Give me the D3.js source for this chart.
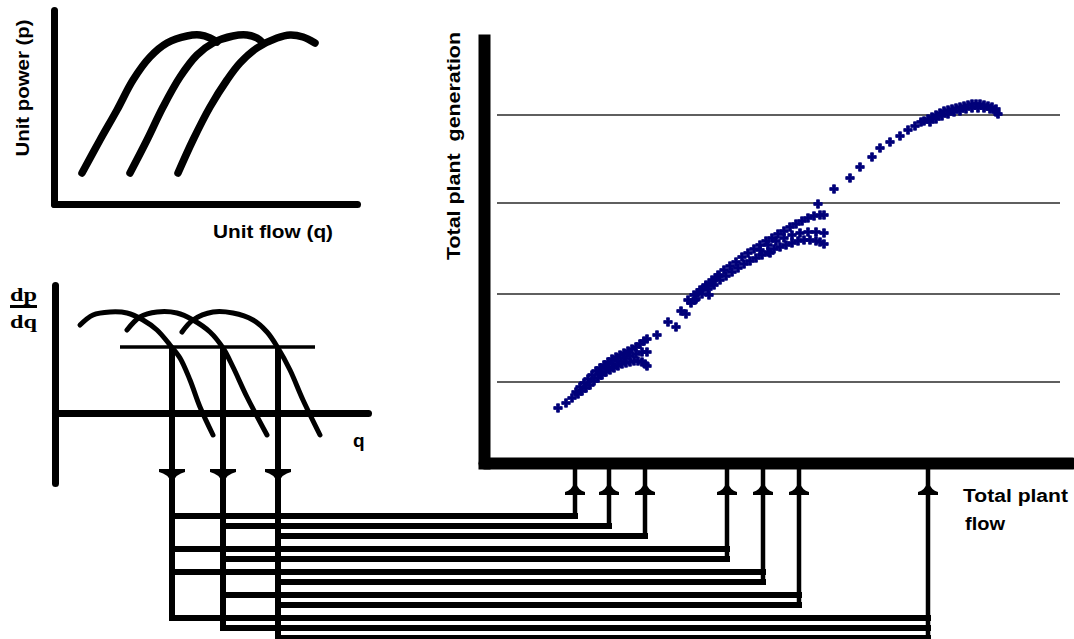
<!DOCTYPE html>
<html><head><meta charset="utf-8">
<script src="https://cdn.jsdelivr.net/npm/d3@7"></script>
<style>
body{margin:0;background:#fff}
svg{display:block}
text{font-family:"Liberation Sans",Arial,sans-serif;font-weight:bold;fill:#000}
</style>
</head><body>
<svg id="c" width="1074" height="639"></svg>
<script>
// ================= DATA =================
// Unit power curves p(q)  [unit flow q, unit power p]
const powerCurve1 = [[28,31],[46,64],[63,94],[79,124],[96,147],[113,161],[133,168],[146,169],[156,166],[163,162]];
const powerCurve2 = [[76,31],[93,64],[109,97],[126,127],[143,149],[159,161],[179,168],[193,169],[203,166],[209,161]];
const powerCurve3 = [[124,31],[139,64],[156,97],[173,124],[186,141],[203,156],[223,166],[236,169],[249,167],[261,161]];
// Marginal curves dp/dq  [q, dp/dq]
const marginal1 = [[25,88],[38,98],[55,101],[72,100],[88,93],[102,83],[115,68],[125,55],[135,33],[145,6],[158,-22]];
const marginal2 = [[72,83],[85,96],[102,101],[122,100],[138,93],[155,81],[168,65],[178,46],[192,16],[212,-22]];
const marginal3 = [[127,81],[138,93],[158,101],[178,100],[198,93],[212,81],[223,65],[235,43],[248,13],[265,-22]];
// common dp/dq level and unit flows where it cuts each curve
const lambdaLevel = 66;
const lambdaSpan = [65, 260];
const unitFlowAtLambda = [117, 168, 223];
// unit combinations marked on the total plant flow axis
const comboFlows = [97, 131, 167, 249, 285, 321, 450];
const comboUnits = [[0],[1],[2],[0,1],[0,2],[1,2],[0,1,2]];
// horizontal reference lines of total plant generation
const generationGrid = [89, 177, 268, 356];
// scatter: total plant flow vs total plant generation
const leadPoints = [[80,63],[88,68],[94,73]];
const oneUnitUpper = [[98,79],[102,84],[106,88],[110,92],[114,96],[118,100],[122,103],[126,106],[130,109],[134,112],[138,114],[142,116],[146,118],[150,120],[154,122],[158,124],[162,127],[166,130],[169,132]];
const oneUnitMiddle = [[122,99],[128,103],[134,107],[140,110],[146,113],[152,115],[158,117],[164,119],[169,119]];
const oneUnitLower = [[100,77],[104,80],[108,83],[112,86],[116,90],[120,93],[124,96],[128,99],[132,101],[136,103],[140,105],[144,107],[148,108],[152,109],[156,110],[160,110],[164,109],[167,107],[169,105]];
const transitionPoints1 = [[179,136],[190,149],[198,144],[203,160],[208,157],[213,168],[217,171],[220,178],[224,181],[228,185],[231,176],[234,188],[238,193],[241,195],[292,218]];
const twoUnitUpper = [[210,171],[216,176],[222,181],[228,186],[234,191],[240,196],[246,201],[252,205],[258,209],[264,214],[270,218],[276,222],[282,226],[288,230],[294,233],[300,237],[306,240],[312,244],[318,247],[324,250],[330,253],[336,255],[342,256],[346,256]];
const twoUnitMiddle = [[282,221],[290,226],[298,230],[306,233],[314,236],[322,238],[330,239],[338,239],[346,238]];
const twoUnitLower = [[218,172],[224,177],[230,182],[236,186],[242,191],[248,195],[254,199],[260,203],[266,207],[272,210],[278,213],[284,216],[290,219],[296,222],[302,224],[308,226],[314,228],[320,230],[326,231],[332,231],[338,230],[342,229],[346,227]];
const transitionPoints2 = [[340,267],[356,282],[372,293],[382,304],[394,314],[402,323],[412,329],[422,335],[430,341],[437,345],[443,349]];
const threeUnitUpper = [[446,350],[450,352],[454,354],[458,356],[462,358],[466,360],[470,361],[474,362],[478,363],[482,364],[486,365],[490,366],[494,367],[498,367],[502,367],[506,366],[510,365],[514,364],[518,362]];
const threeUnitLower = [[452,349],[458,352],[464,355],[470,357],[476,359],[482,360],[488,362],[494,363],[500,363],[506,363],[512,362],[518,359],[520,357]];

// ================= DRAWING =================
const svg = d3.select("#c");
const INK = "#000";
const DOT = "#00007a";

// ---- panel 1: unit power vs unit flow ----
const pX = d3.scaleLinear([0, 303], [54, 357]);
const pY = d3.scaleLinear([0, 194], [204, 10]);
const g1 = svg.append("g");
g1.append("g").attr("transform", `translate(0,${pY(0)})`)
  .call(d3.axisBottom(pX).tickValues([]).tickSizeOuter(0))
  .select(".domain").attr("stroke", INK).attr("stroke-width", 7).attr("stroke-linecap", "round");
g1.append("g").attr("transform", `translate(${pX(0)},0)`)
  .call(d3.axisLeft(pY).tickValues([]).tickSizeOuter(0))
  .select(".domain").attr("stroke", INK).attr("stroke-width", 7).attr("stroke-linecap", "round");
const pLine = d3.line().x(d => pX(d[0])).y(d => pY(d[1])).curve(d3.curveCatmullRom);
[powerCurve1, powerCurve2, powerCurve3].forEach(c => {
  g1.append("path").attr("d", pLine(c)).attr("fill", "none").attr("stroke", INK)
    .attr("stroke-width", 7.5).attr("stroke-linecap", "round").attr("stroke-linejoin", "round");
});
g1.append("text").attr("transform", "translate(29,88) rotate(-90)").attr("text-anchor", "middle")
  .attr("font-size", 19).attr("textLength", 137).attr("lengthAdjust", "spacingAndGlyphs").text("Unit power (p)");
g1.append("text").attr("x", 213).attr("y", 238).attr("font-size", 19)
  .attr("textLength", 120).attr("lengthAdjust", "spacingAndGlyphs").text("Unit flow (q)");

// ---- panel 2: dp/dq vs q ----
const dX = d3.scaleLinear([0, 313], [55, 368]);
const dY = d3.scaleLinear([-70, 128], [483, 285]);
const g2 = svg.append("g");
g2.append("g").attr("transform", `translate(0,${dY(0)})`)
  .call(d3.axisBottom(dX).tickValues([]).tickSizeOuter(0))
  .select(".domain").attr("stroke", INK).attr("stroke-width", 7).attr("stroke-linecap", "round");
g2.append("g").attr("transform", `translate(${dX(0)},0)`)
  .call(d3.axisLeft(dY).tickValues([]).tickSizeOuter(0))
  .select(".domain").attr("stroke", INK).attr("stroke-width", 7).attr("stroke-linecap", "round");
const dLine = d3.line().x(d => dX(d[0])).y(d => dY(d[1])).curve(d3.curveCatmullRom);
[marginal1, marginal2, marginal3].forEach(c => {
  g2.append("path").attr("d", dLine(c)).attr("fill", "none").attr("stroke", INK)
    .attr("stroke-width", 5).attr("stroke-linecap", "round").attr("stroke-linejoin", "round");
});
g2.append("line").attr("x1", dX(lambdaSpan[0])).attr("x2", dX(lambdaSpan[1]))
  .attr("y1", dY(lambdaLevel)).attr("y2", dY(lambdaLevel)).attr("stroke", INK).attr("stroke-width", 3.5);
g2.append("text").attr("x", 10).attr("y", 301).attr("font-size", 19).attr("textLength", 27)
  .attr("lengthAdjust", "spacingAndGlyphs").style("font-family", "'Liberation Serif',serif").text("dp");
g2.append("rect").attr("x", 10).attr("y", 305).attr("width", 27).attr("height", 3).attr("fill", INK);
g2.append("text").attr("x", 10).attr("y", 328).attr("font-size", 19).attr("textLength", 27)
  .attr("lengthAdjust", "spacingAndGlyphs").style("font-family", "'Liberation Serif',serif").text("dq");
g2.append("text").attr("x", 353).attr("y", 447).attr("font-size", 19).text("q");

// ---- main panel: total plant generation vs total plant flow ----
const fX = d3.scaleLinear([6, 594], [484, 1072]);
const gY = d3.scaleLinear([2, 437], [469, 34]);
const g3 = svg.append("g");
// gridlines
g3.selectAll("line.grid").data(generationGrid).join("line").attr("class", "grid")
  .attr("x1", 497).attr("x2", 1060).attr("y1", d => gY(d)).attr("y2", d => gY(d))
  .attr("stroke", "#2a2a2a").attr("stroke-width", 1.6);
// axes
g3.append("g").attr("transform", "translate(0,463)")
  .call(d3.axisBottom(fX).tickValues([]).tickSizeOuter(0))
  .select(".domain").attr("stroke", INK).attr("stroke-width", 12).attr("stroke-linecap", "round");
g3.append("g").attr("transform", "translate(484,0)")
  .call(d3.axisLeft(gY).tickValues([]).tickSizeOuter(0))
  .select(".domain").attr("stroke", INK).attr("stroke-width", 12);
// scatter
const sym = d3.symbol().type(d3.symbolCross).size(40);
const allSeries = [leadPoints, oneUnitUpper, oneUnitMiddle, oneUnitLower, transitionPoints1,
  twoUnitUpper, twoUnitMiddle, twoUnitLower, transitionPoints2, threeUnitUpper, threeUnitLower];
allSeries.forEach(s => {
  g3.append("g").selectAll("path").data(s).join("path")
    .attr("transform", d => `translate(${fX(d[0])},${gY(d[1])})`)
    .attr("d", sym).attr("fill", DOT).attr("stroke", DOT).attr("stroke-width", 0.8);
});
g3.append("text").attr("transform", "translate(460,146) rotate(-90)").attr("text-anchor", "middle")
  .attr("font-size", 18).attr("textLength", 228).attr("lengthAdjust", "spacingAndGlyphs")
  .style("white-space", "pre").text("Total plant  generation");
g3.append("text").attr("x", 963).attr("y", 502).attr("font-size", 18)
  .attr("textLength", 105).attr("lengthAdjust", "spacingAndGlyphs").text("Total plant");
g3.append("text").attr("x", 965).attr("y", 530).attr("font-size", 18)
  .attr("textLength", 40).attr("lengthAdjust", "spacingAndGlyphs").text("flow");

// ---- connection network ----
const g4 = svg.append("g");
const bus = [];
comboUnits.forEach((units, ci) => {
  units.forEach(u => {
    const i = bus.length;
    const grp = Math.max(0, ci - 2);
    bus.push({ unit: u, combo: ci, y: 516 + i * 10 + grp * 3 });
  });
});
const unitX = unitFlowAtLambda.map(q => dX(q));
const comboX = comboFlows.map(f => fX(f));
// horizontal bus lines
g4.selectAll("line.bus").data(bus).join("line").attr("class", "bus")
  .attr("x1", d => unitX[d.unit]).attr("x2", d => comboX[d.combo])
  .attr("y1", d => d.y).attr("y2", d => d.y)
  .attr("stroke", INK).attr("stroke-width", 6).attr("stroke-linecap", "square");
// unit verticals
unitX.forEach((x, u) => {
  const last = d3.max(bus.filter(b => b.unit === u), b => b.y);
  g4.append("line").attr("x1", x).attr("x2", x).attr("y1", dY(lambdaLevel))
    .attr("y2", u === 2 ? 639 : last + 3).attr("stroke", INK).attr("stroke-width", 6);
  g4.append("path").attr("fill", INK)
    .attr("d", `M${x-13},469 L${x+13},469 L${x+13},472 Q${x+4},474 ${x+1},482 L${x-1},482 Q${x-4},474 ${x-13},472 Z`);
});
// combination verticals
comboX.forEach((x, ci) => {
  const last = d3.max(bus.filter(b => b.combo === ci), b => b.y);
  g4.append("line").attr("x1", x).attr("x2", x).attr("y1", 468)
    .attr("y2", ci === comboX.length - 1 ? 639 : last + 3).attr("stroke", INK).attr("stroke-width", 4.5);
  g4.append("path").attr("fill", INK)
    .attr("d", `M${x-10},495 L${x+10},495 L${x+10},492 Q${x+3},490 ${x+1},483 L${x-1},483 Q${x-3},490 ${x-10},492 Z`);
});
</script>
</body></html>
